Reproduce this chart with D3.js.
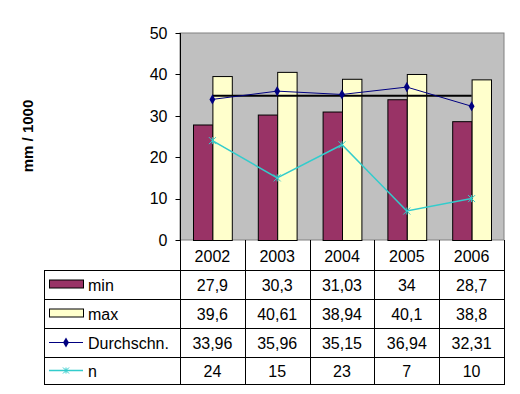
<!DOCTYPE html>
<html>
<head>
<meta charset="utf-8">
<script src="https://cdn.jsdelivr.net/npm/d3@7"></script>
<style>
body { margin: 0; background: #fff; }
svg text { font-family: "Liberation Sans", Arial, sans-serif; fill: #000; }
</style>
</head>
<body>
<svg id="chart" width="520" height="394"></svg>
<script>
// data
var years = ['2002', '2003', '2004', '2005', '2006'];
var minVals = [27.9, 30.3, 31.03, 34, 28.7];
var maxVals = [39.6, 40.61, 38.94, 40.1, 38.8];
var avgVals = [33.96, 35.96, 35.15, 36.94, 32.31];
var nVals = [24, 15, 23, 7, 10];
var minLabels = ['27,9', '30,3', '31,03', '34', '28,7'];
var maxLabels = ['39,6', '40,61', '38,94', '40,1', '38,8'];
var avgLabels = ['33,96', '35,96', '35,15', '36,94', '32,31'];
var nLabels = ['24', '15', '23', '7', '10'];
var avgLevel = 34.86; // black reference line
var yTicks = [0, 10, 20, 30, 40, 50];

var svg = d3.select('#chart');
var plot = {left: 180, right: 504, top: 33, bottom: 240};

var x = d3.scaleBand().domain(years).range([plot.left, plot.right]).padding(0);
var xSub = d3.scaleBand().domain(['min', 'max']).range([0, x.bandwidth()]).paddingOuter(0.67).paddingInner(0);
var y = d3.scaleLinear().domain([0, 50]).range([plot.bottom, plot.top]);

// plot background
svg.append('rect')
    .attr('x', plot.left).attr('y', plot.top)
    .attr('width', plot.right - plot.left).attr('height', plot.bottom - plot.top)
    .attr('fill', '#c0c0c0').attr('stroke', '#808080').attr('stroke-width', 1);

// bars
var groups = svg.selectAll('g.year').data(years).enter().append('g')
    .attr('transform', function(d) { return 'translate(' + x(d) + ',0)'; });

groups.append('rect')
    .attr('x', xSub('min') + 0.5)
    .attr('y', function(d, i) { return y(minVals[i]) + 0.5; })
    .attr('width', xSub.bandwidth())
    .attr('height', function(d, i) { return y(0) - y(minVals[i]); })
    .attr('fill', '#993366').attr('stroke', '#000');

groups.append('rect')
    .attr('x', xSub('max') + 0.5)
    .attr('y', function(d, i) { return y(maxVals[i]) + 0.5; })
    .attr('width', xSub.bandwidth())
    .attr('height', function(d, i) { return y(0) - y(maxVals[i]); })
    .attr('fill', '#ffffcc').attr('stroke', '#000');

var cx = function(d, i) { return x(years[i]) + x.bandwidth() / 2; };

// black mean line
svg.append('line')
    .attr('x1', cx(null, 0)).attr('x2', cx(null, 4))
    .attr('y1', y(avgLevel)).attr('y2', y(avgLevel))
    .attr('stroke', '#000').attr('stroke-width', 2);

// Durchschn. line
var avgLine = d3.line().x(cx).y(function(d) { return y(d); });
svg.append('path').datum(avgVals)
    .attr('d', avgLine).attr('fill', 'none')
    .attr('stroke', '#000080').attr('stroke-width', 1);

var diamond = d3.symbol().type(d3.symbolDiamond).size(30);
svg.selectAll('path.dia').data(avgVals).enter().append('path')
    .attr('class', 'dia')
    .attr('d', diamond)
    .attr('transform', function(d, i) { return 'translate(' + cx(d, i) + ',' + y(d) + ')'; })
    .attr('fill', '#000080');

// n line
svg.append('path').datum(nVals)
    .attr('d', avgLine).attr('fill', 'none')
    .attr('stroke', '#33cccc').attr('stroke-width', 1.5);

function starPath(s) {
    return 'M' + (-s) + ',' + (-s) + 'L' + s + ',' + s +
        'M' + (-s) + ',' + s + 'L' + s + ',' + (-s) +
        'M0,' + (-s) + 'L0,' + s;
}
svg.selectAll('path.star').data(nVals).enter().append('path')
    .attr('d', starPath(3.5))
    .attr('transform', function(d, i) { return 'translate(' + cx(d, i) + ',' + y(d) + ')'; })
    .attr('fill', 'none').attr('stroke', '#33cccc').attr('stroke-width', 1);

// y axis
var yAxis = svg.append('g').attr('transform', 'translate(' + (plot.left + 0.5) + ',0)');
yAxis.append('line').attr('y1', plot.top).attr('y2', 384).attr('stroke', '#000');
yAxis.selectAll('line.tick').data(yTicks).enter().append('line')
    .attr('x1', -5).attr('x2', 0)
    .attr('y1', function(d) { return Math.round(y(d)) + 0.5; })
    .attr('y2', function(d) { return Math.round(y(d)) + 0.5; })
    .attr('stroke', '#000');
yAxis.selectAll('text').data(yTicks).enter().append('text')
    .attr('x', -13).attr('y', function(d) { return y(d); })
    .attr('dy', '0.36em').attr('text-anchor', 'end')
    .style('font-size', '16px')
    .text(function(d) { return d; });

svg.append('text')
    .attr('transform', 'translate(33,136) rotate(-90)')
    .attr('text-anchor', 'middle')
    .style('font-size', '15px').style('font-weight', 'bold')
    .text('mm / 1000');

// data table
var rowY = [240, 270, 299, 328, 357, 384];
var tableLeft = 44;
var table = svg.append('g').attr('stroke', '#000').attr('stroke-width', 1);
rowY.forEach(function(ry, k) {
    if (k === 0) return;
    table.append('line').attr('x1', tableLeft).attr('x2', plot.right)
        .attr('y1', ry + 0.5).attr('y2', ry + 0.5);
});
table.append('line').attr('x1', tableLeft + 0.5).attr('x2', tableLeft + 0.5)
    .attr('y1', rowY[1]).attr('y2', rowY[5] + 1);
years.forEach(function(yr, i) {
    var xr = Math.round(x(yr) + x.bandwidth()) + 0.5;
    table.append('line').attr('x1', xr).attr('x2', xr)
        .attr('y1', plot.bottom).attr('y2', rowY[5] + 1);
});

var rows = [
    {name: 'min', labels: minLabels},
    {name: 'max', labels: maxLabels},
    {name: 'Durchschn.', labels: avgLabels},
    {name: 'n', labels: nLabels}
];

var textStyle = function(sel) {
    return sel.style('font-size', '16px').attr('dy', '0.36em');
};

years.forEach(function(yr, i) {
    svg.append('text')
        .attr('x', x(yr) + x.bandwidth() / 2).attr('y', (rowY[0] + rowY[1]) / 2 + 1)
        .attr('text-anchor', 'middle').call(textStyle).text(yr);
});

rows.forEach(function(r, k) {
    var mid = (rowY[k + 1] + rowY[k + 2]) / 2 + 1;
    svg.append('text').attr('x', 88).attr('y', mid).call(textStyle).text(r.name);
    r.labels.forEach(function(lab, i) {
        svg.append('text')
            .attr('x', x(years[i]) + x.bandwidth() / 2).attr('y', mid)
            .attr('text-anchor', 'middle').call(textStyle).text(lab);
    });
    // legend keys
    var kx = 49, kw = 34;
    if (k === 0 || k === 1) {
        svg.append('rect').attr('x', kx + 0.5).attr('y', mid - 5.5)
            .attr('width', kw).attr('height', 8)
            .attr('fill', k === 0 ? '#993366' : '#ffffcc').attr('stroke', '#000');
    } else if (k === 2) {
        svg.append('line').attr('x1', kx).attr('x2', kx + kw).attr('y1', mid - 1).attr('y2', mid - 1)
            .attr('stroke', '#000080');
        svg.append('path').attr('d', diamond)
            .attr('transform', 'translate(' + (kx + kw / 2) + ',' + (mid - 1) + ')').attr('fill', '#000080');
    } else {
        svg.append('line').attr('x1', kx).attr('x2', kx + kw).attr('y1', mid - 1).attr('y2', mid - 1)
            .attr('stroke', '#33cccc').attr('stroke-width', 1.5);
        svg.append('path').attr('d', starPath(3))
            .attr('transform', 'translate(' + (kx + kw / 2) + ',' + (mid - 1) + ')')
            .attr('fill', 'none').attr('stroke', '#33cccc');
    }
});
</script>
</body>
</html>
